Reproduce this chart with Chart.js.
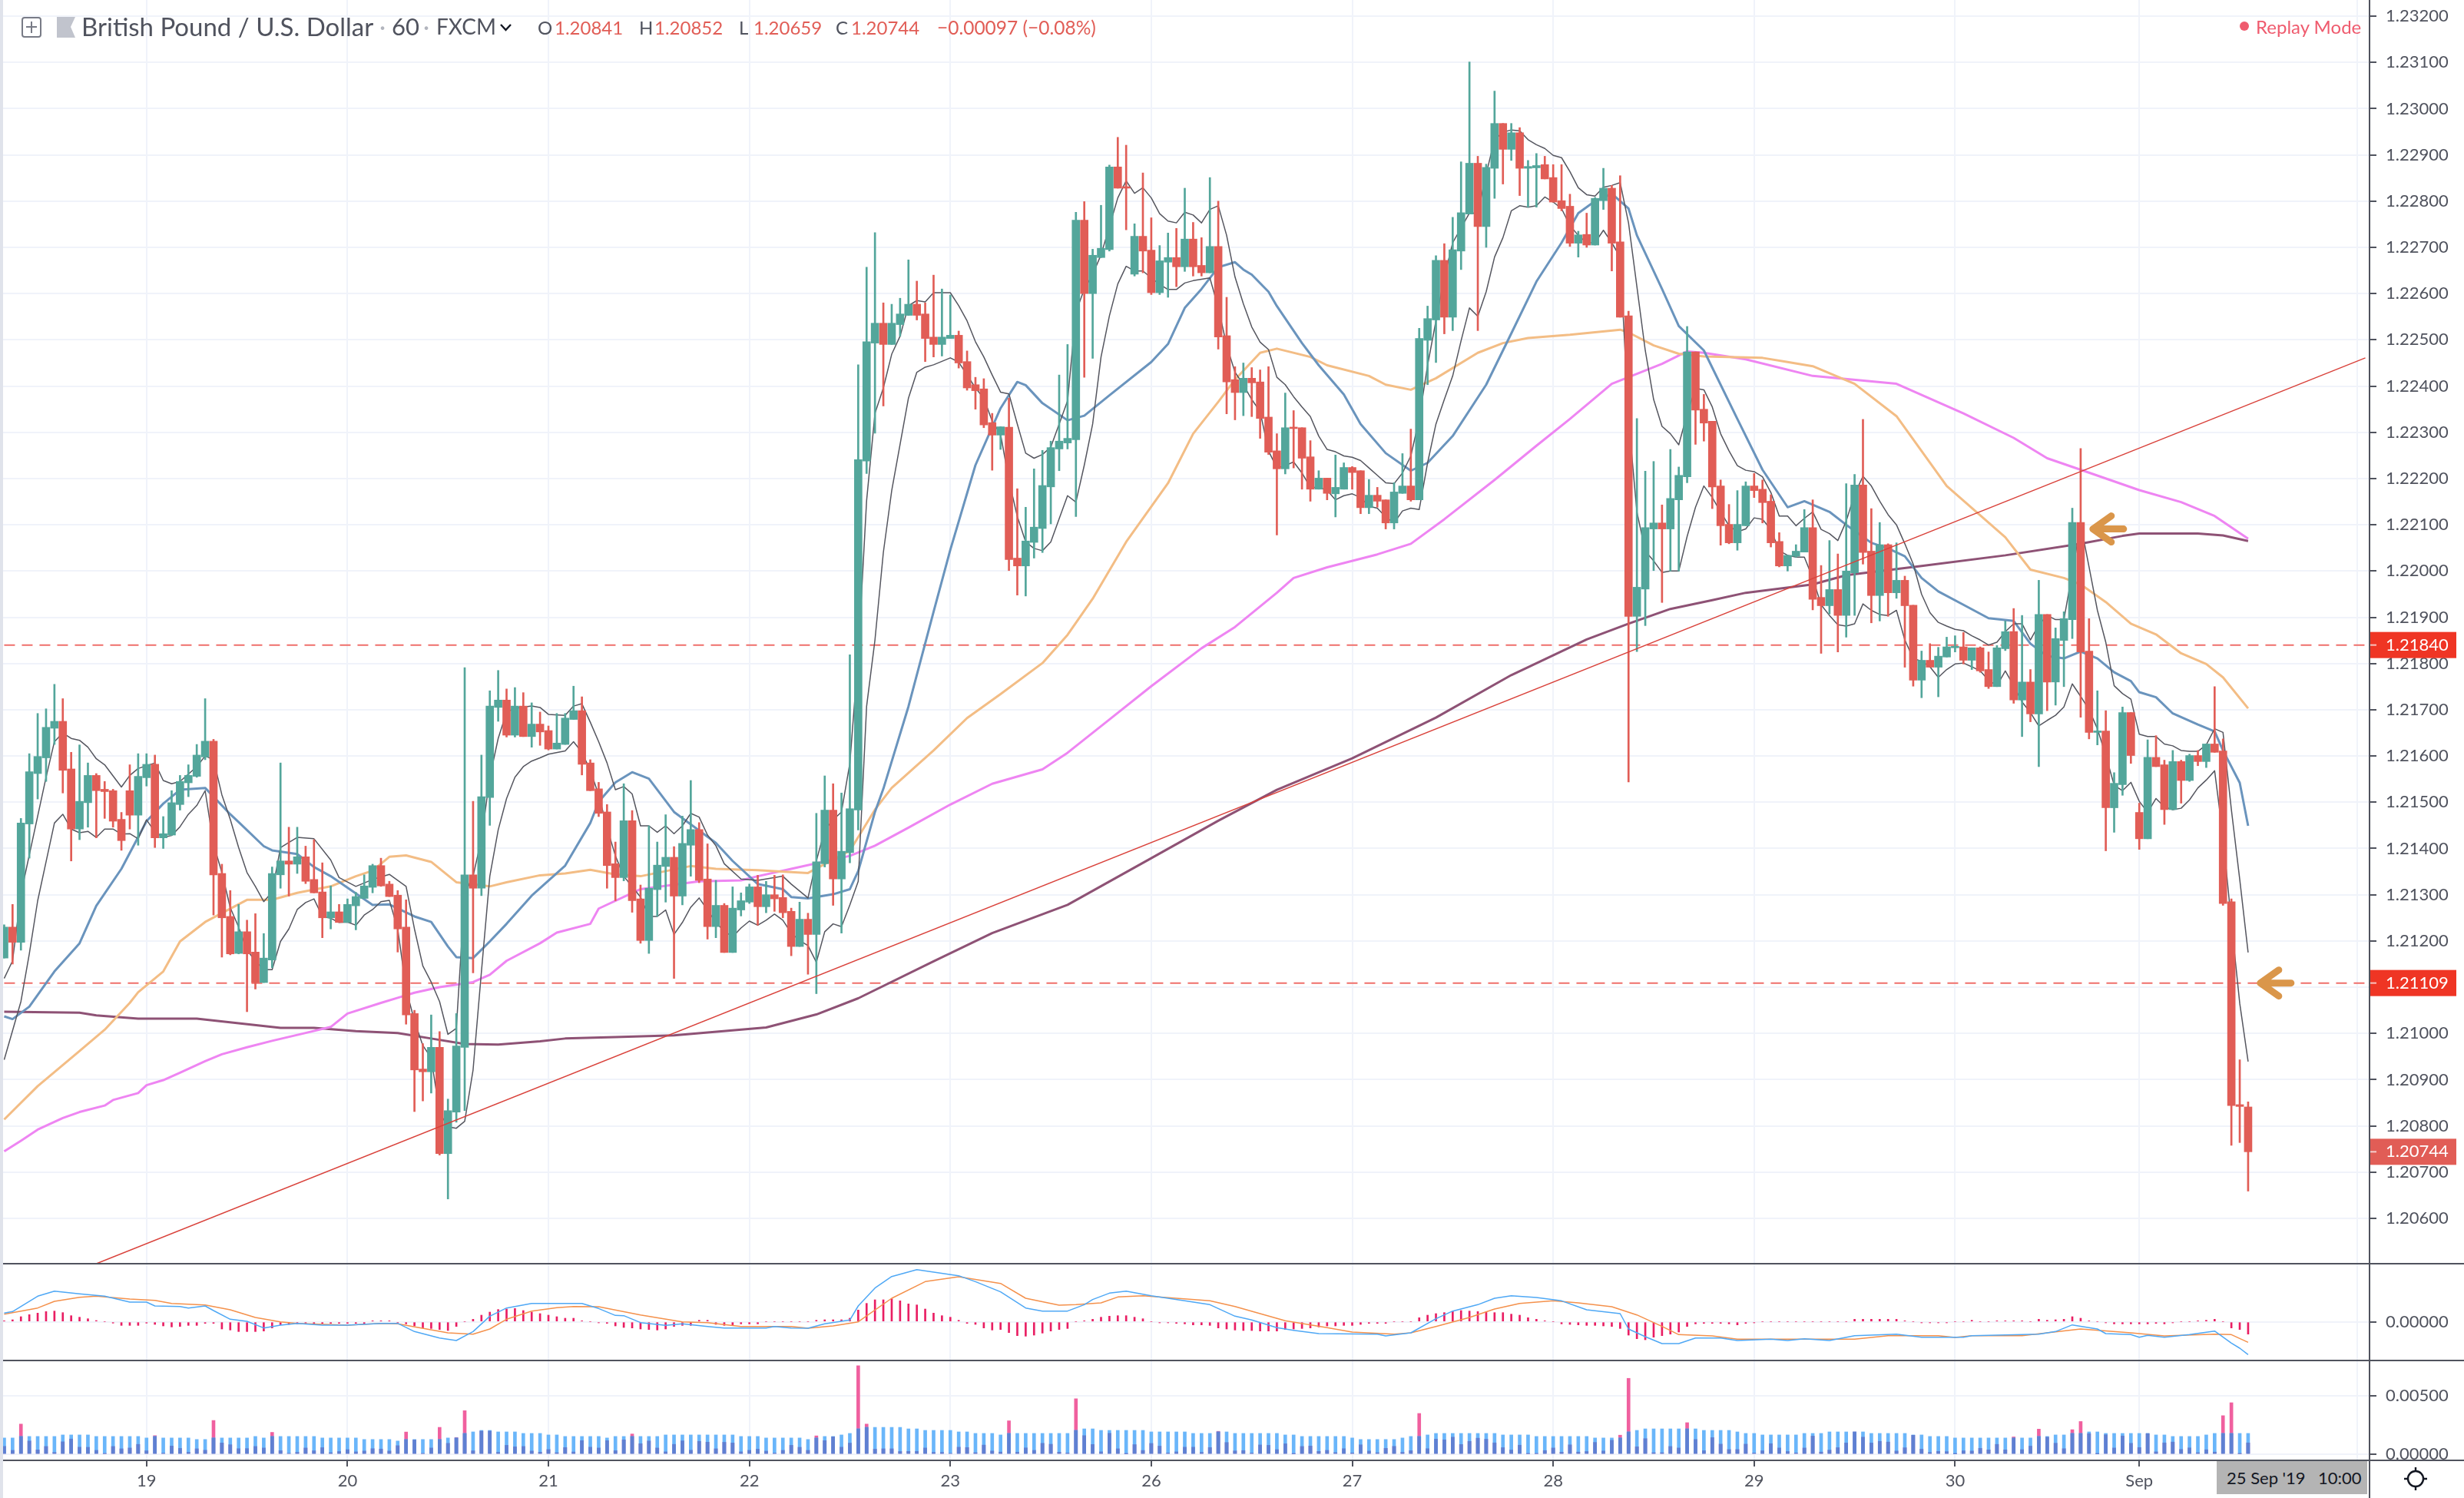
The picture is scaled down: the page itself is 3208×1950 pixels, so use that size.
<!DOCTYPE html>
<html>
<head>
<meta charset="utf-8">
<title>GBPUSD 60</title>
<script src="https://cdn.jsdelivr.net/npm/chart.js@4"></script>
<style>
html,body{margin:0;padding:0;background:#fff}
#page{position:relative;width:3208px;height:1950px;overflow:hidden;background:#fff;font-family:Lato,sans-serif;color:#50535e}
canvas{position:absolute;left:0}
.txt{position:absolute;white-space:nowrap;line-height:1}
.rule{position:absolute;background:#50535e}
</style>
</head>
<body>
<div id="page">
<canvas id="mainPane" width="3208" height="1645" style="top:0"></canvas>
<canvas id="macdPane" width="3208" height="126" style="top:1645px"></canvas>
<canvas id="atrPane" width="3208" height="179" style="top:1771px"></canvas>
<div class="rule" style="left:0;top:0;width:4px;height:1950px;background:#e0e3eb"></div>
<div class="rule" style="left:4px;top:1644px;width:3204px;height:2px"></div>
<div class="rule" style="left:4px;top:1770px;width:3204px;height:2px"></div>
<div class="rule" style="left:4px;top:1900px;width:3204px;height:2px"></div>
<div class="rule" style="left:3084px;top:0;width:2px;height:1950px"></div>
<svg style="position:absolute;left:28px;top:22px" width="72" height="27"><rect x="1" y="1" width="24" height="25" rx="3" fill="none" stroke="#787b86" stroke-width="2"/><path d="M13 6V21M6 13H20" stroke="#787b86" stroke-width="2"/><path d="M46 0H70L64 13L70 27H46Z" fill="#c1c4cd"/></svg>
<div class="txt" style="left:106px;top:18px;font-size:33px">British Pound / U.S. Dollar</div>
<div class="txt" style="left:494px;top:19px;font-size:31px;color:#b2b5be">·</div>
<div class="txt" style="left:510px;top:19px;font-size:31px">60</div>
<div class="txt" style="left:551px;top:19px;font-size:31px;color:#b2b5be">·</div>
<div class="txt" style="left:568px;top:20px;font-size:28px">FXCM</div>
<svg style="position:absolute;left:650px;top:30px" width="18" height="12"><path d="M2 2L8.5 9L15 2" fill="none" stroke="#131722" stroke-width="2.4"/></svg>
<div class="txt" style="left:700px;top:24px;font-size:24px">O</div>
<div class="txt" style="left:722px;top:24px;font-size:24px;color:#e15d56">1.20841</div>
<div class="txt" style="left:832px;top:24px;font-size:24px">H</div>
<div class="txt" style="left:852px;top:24px;font-size:24px;color:#e15d56">1.20852</div>
<div class="txt" style="left:962px;top:24px;font-size:24px">L</div>
<div class="txt" style="left:981px;top:24px;font-size:24px;color:#e15d56">1.20659</div>
<div class="txt" style="left:1088px;top:24px;font-size:24px">C</div>
<div class="txt" style="left:1108px;top:24px;font-size:24px;color:#e15d56">1.20744</div>
<div class="txt" style="left:1220px;top:24px;font-size:24.5px;color:#e15d56">−0.00097 (−0.08%)</div>
<svg style="position:absolute;left:2915px;top:27px" width="14" height="14"><circle cx="7" cy="7" r="6" fill="#ef5b6e"/></svg>
<div class="txt" style="left:2937px;top:23px;font-size:24px;color:#ef5b6e">Replay Mode</div>
<div style="position:absolute;left:2886px;top:1902px;width:196px;height:43px;background:#b4b4b4"></div>
<div class="txt" style="left:2899px;top:1913px;font-size:22px;color:#131722">25 Sep '19</div>
<div class="txt" style="left:3018px;top:1913px;font-size:22px;color:#131722">10:00</div>
<svg style="position:absolute;left:3128px;top:1908px" width="34" height="34"><circle cx="17" cy="17" r="10" fill="none" stroke="#131722" stroke-width="2.4"/><path d="M17 2V7M17 27V32M2 17H7M27 17H32" stroke="#131722" stroke-width="2.4"/></svg>
</div>
<script>
const opens=[1.21163,1.21230,1.21197,1.21453,1.21562,1.21596,1.21660,1.21675,1.21572,1.21442,
1.21499,1.21558,1.21528,1.21525,1.21463,1.21525,1.21472,1.21553,1.21582,1.21423,
1.21429,1.21495,1.21542,1.21556,1.21598,1.21632,1.21346,1.21253,1.21173,1.21220,
1.21176,1.21110,1.21159,1.21343,1.21373,1.21366,1.21382,1.21333,1.21306,1.21250,
1.21263,1.21240,1.21276,1.21292,1.21316,1.21363,1.21323,1.21299,1.21230,1.21043,
1.20923,1.20917,1.20970,1.20740,1.20830,1.20970,1.21343,1.21314,1.21510,1.21705,
1.21721,1.21645,1.21708,1.21642,1.21669,1.21655,1.21615,1.21625,1.21679,1.21698,
1.21585,1.21529,1.21479,1.21367,1.21337,1.21460,1.21291,1.21201,1.21311,1.21361,
1.21381,1.21297,1.21407,1.21441,1.21334,1.21231,1.21277,1.21175,1.21267,1.21284,
1.21317,1.21274,1.21300,1.21294,1.21264,1.21188,1.21247,1.21214,1.21367,1.21483,
1.21334,1.21391,1.21483,1.22238,1.22493,1.22536,1.22490,1.22533,1.22553,1.22577,
1.22556,1.22506,1.22490,1.22503,1.22510,1.22453,1.22403,1.22394,1.22321,1.22294,
1.22311,1.22028,1.22011,1.22062,1.22092,1.22182,1.22264,1.22277,1.22284,1.22759,
1.22600,1.22678,1.22695,1.22874,1.22831,1.22642,1.22724,1.22694,1.22602,1.22668,
1.22678,1.22658,1.22718,1.22661,1.22645,1.22702,1.22509,1.22414,1.22386,1.22417,
1.22409,1.22333,1.22260,1.22221,1.22311,1.22310,1.22247,1.22177,1.22201,1.22167,
1.22177,1.22224,1.22217,1.22137,1.22164,1.22154,1.22104,1.22168,1.22184,1.22154,
1.22499,1.22543,1.22672,1.22549,1.22692,1.22772,1.22882,1.22745,1.22871,1.22968,
1.22912,1.22948,1.22871,1.22872,1.22879,1.22851,1.22801,1.22789,1.22709,1.22728,
1.22705,1.22801,1.22828,1.22712,1.22552,1.21902,1.21961,1.22091,1.22104,1.22091,
1.22154,1.22204,1.22474,1.22350,1.22324,1.22184,1.22101,1.22061,1.22098,1.22184,
1.22177,1.22151,1.22064,1.22011,1.22032,1.22041,1.22094,1.21943,1.21925,1.21960,
1.21904,1.21996,1.22186,1.22043,1.21947,1.22057,1.21953,1.21980,1.21926,1.21764,
1.21807,1.21792,1.21814,1.21834,1.21836,1.21807,1.21834,1.21787,1.21750,1.21832,
1.21869,1.21721,1.21760,1.21691,1.21906,1.21760,1.21850,1.21895,1.22105,1.21827,
1.21651,1.21654,1.21488,1.21538,1.21694,1.21478,1.21421,1.21597,1.21581,1.21484,
1.21588,1.21547,1.21601,1.21588,1.21626,1.21611,1.21285,1.20846,1.20841];
const closes=[1.21230,1.21197,1.21455,1.21566,1.21599,1.21662,1.21675,1.21569,1.21442,1.21502,
1.21558,1.21525,1.21523,1.21459,1.21417,1.21472,1.21556,1.21582,1.21423,1.21432,
1.21499,1.21545,1.21558,1.21602,1.21632,1.21343,1.21250,1.21172,1.21220,1.21172,
1.21110,1.21163,1.21346,1.21373,1.21366,1.21382,1.21329,1.21304,1.21250,1.21263,
1.21240,1.21279,1.21296,1.21319,1.21363,1.21319,1.21296,1.21226,1.21040,1.20921,
1.20917,1.20970,1.20740,1.20833,1.20973,1.21343,1.21314,1.21512,1.21708,1.21721,
1.21645,1.21708,1.21642,1.21669,1.21652,1.21615,1.21628,1.21682,1.21698,1.21582,
1.21525,1.21476,1.21363,1.21337,1.21460,1.21287,1.21201,1.21314,1.21364,1.21381,
1.21297,1.21411,1.21441,1.21331,1.21231,1.21277,1.21175,1.21271,1.21287,1.21317,
1.21274,1.21300,1.21291,1.21261,1.21188,1.21247,1.21214,1.21371,1.21483,1.21334,
1.21394,1.21486,1.22241,1.22496,1.22536,1.22490,1.22536,1.22556,1.22577,1.22553,
1.22503,1.22490,1.22506,1.22510,1.22450,1.22396,1.22390,1.22316,1.22294,1.22312,
1.22025,1.22011,1.22065,1.22095,1.22185,1.22267,1.22281,1.22287,1.22759,1.22600,
1.22683,1.22698,1.22874,1.22828,1.22828,1.22724,1.22692,1.22602,1.22671,1.22678,
1.22658,1.22718,1.22658,1.22645,1.22702,1.22506,1.22409,1.22386,1.22417,1.22407,
1.22330,1.22257,1.22221,1.22310,1.22308,1.22244,1.22177,1.22201,1.22168,1.22181,
1.22224,1.22213,1.22137,1.22164,1.22151,1.22104,1.22171,1.22184,1.22154,1.22503,
1.22546,1.22672,1.22549,1.22695,1.22775,1.22882,1.22745,1.22873,1.22968,1.22912,
1.22948,1.22871,1.22875,1.22877,1.22848,1.22798,1.22784,1.22709,1.22727,1.22705,
1.22806,1.22828,1.22709,1.22549,1.21902,1.21965,1.22094,1.22104,1.22091,1.22157,
1.22207,1.22474,1.22348,1.22320,1.22182,1.22098,1.22061,1.22101,1.22184,1.22174,
1.22148,1.22061,1.22011,1.22034,1.22043,1.22094,1.21939,1.21925,1.21960,1.21904,
1.22000,1.22186,1.22040,1.21947,1.22057,1.21953,1.21980,1.21925,1.21764,1.21807,
1.21792,1.21816,1.21836,1.21836,1.21807,1.21834,1.21784,1.21750,1.21834,1.21869,
1.21721,1.21760,1.21691,1.21906,1.21760,1.21854,1.21897,1.22105,1.21825,1.21651,
1.21653,1.21488,1.21541,1.21694,1.21601,1.21421,1.21597,1.21577,1.21484,1.21588,
1.21547,1.21601,1.21588,1.21626,1.21608,1.21281,1.20844,1.20842,1.20744];
const highs=[1.21235,1.21279,1.21465,1.21605,1.21692,1.21702,1.21755,1.21724,1.21608,1.21624,
1.21585,1.21562,1.21545,1.21528,1.21478,1.21581,1.21605,1.21605,1.21602,1.21469,
1.21525,1.21558,1.21581,1.21625,1.21724,1.21636,1.21366,1.21309,1.21279,1.21245,
1.21259,1.21216,1.21360,1.21585,1.21446,1.21446,1.21405,1.21419,1.21369,1.21319,
1.21279,1.21291,1.21305,1.21343,1.21366,1.21379,1.21329,1.21309,1.21289,1.21050,
1.20978,1.21040,1.21004,1.20858,1.21043,1.21791,1.21502,1.21602,1.21741,1.21785,
1.21745,1.21748,1.21737,1.21715,1.21695,1.21665,1.21692,1.21692,1.21751,1.21728,
1.21592,1.21543,1.21495,1.21414,1.21540,1.21482,1.21321,1.21449,1.21414,1.21473,
1.21404,1.21470,1.21547,1.21456,1.21410,1.21331,1.21281,1.21317,1.21304,1.21323,
1.21342,1.21329,1.21342,1.21343,1.21271,1.21284,1.21260,1.21476,1.21557,1.21540,
1.21520,1.21819,1.22446,1.22657,1.22732,1.22580,1.22577,1.22590,1.22673,1.22627,
1.22580,1.22640,1.22610,1.22597,1.22519,1.22476,1.22419,1.22416,1.22341,1.22312,
1.22374,1.22178,1.22138,1.22221,1.22261,1.22281,1.22424,1.22490,1.22776,1.22799,
1.22696,1.22791,1.22878,1.22938,1.22921,1.22751,1.22861,1.22764,1.22704,1.22731,
1.22741,1.22828,1.22754,1.22721,1.22851,1.22800,1.22592,1.22442,1.22450,1.22440,
1.22435,1.22442,1.22297,1.22385,1.22347,1.22310,1.22282,1.22217,1.22201,1.22251,
1.22234,1.22226,1.22217,1.22198,1.22181,1.22154,1.22191,1.22254,1.22307,1.22525,
1.22573,1.22682,1.22708,1.22765,1.22885,1.23101,1.22897,1.22880,1.23038,1.22968,
1.22968,1.22959,1.22888,1.22903,1.22897,1.22879,1.22879,1.22815,1.22735,1.22774,
1.22808,1.22871,1.22834,1.22855,1.22562,1.22330,1.22216,1.22237,1.22143,1.22263,
1.22225,1.22529,1.22474,1.22382,1.22324,1.22197,1.22144,1.22174,1.22193,1.22211,
1.22197,1.22165,1.22083,1.22034,1.22057,1.22133,1.22154,1.22012,1.22066,1.22037,
1.22189,1.22209,1.22328,1.22135,1.22105,1.22059,1.22061,1.21989,1.21926,1.21827,
1.21843,1.21835,1.21857,1.21860,1.21867,1.21834,1.21836,1.21825,1.21839,1.21892,
1.21919,1.21904,1.21787,1.21980,1.21906,1.21877,1.21912,1.22136,1.22265,1.21897,
1.21741,1.21698,1.21564,1.21706,1.21694,1.21498,1.21635,1.21644,1.21591,1.21612,
1.21591,1.21604,1.21612,1.21626,1.21750,1.21637,1.21291,1.20943,1.20852];
const lows=[1.21163,1.21150,1.21180,1.21379,1.21507,1.21545,1.21625,1.21520,1.21373,1.21419,
1.21446,1.21423,1.21465,1.21446,1.21396,1.21442,1.21407,1.21535,1.21402,1.21400,
1.21428,1.21483,1.21512,1.21554,1.21592,1.21256,1.21165,1.21170,1.21172,1.21047,
1.21096,1.21110,1.21142,1.21314,1.21297,1.21346,1.21324,1.21304,1.21207,1.21226,
1.21240,1.21240,1.21224,1.21292,1.21304,1.21318,1.21296,1.21176,1.21020,1.20831,
1.20854,1.20871,1.20737,1.20642,1.20808,1.20833,1.21131,1.21298,1.21450,1.21675,
1.21641,1.21641,1.21642,1.21619,1.21623,1.21613,1.21615,1.21625,1.21679,1.21559,
1.21525,1.21469,1.21314,1.21287,1.21330,1.21262,1.21195,1.21173,1.21253,1.21284,
1.21119,1.21278,1.21340,1.21326,1.21204,1.21207,1.21175,1.21175,1.21254,1.21281,
1.21234,1.21261,1.21264,1.21250,1.21168,1.21188,1.21128,1.21086,1.21360,1.21277,
1.21217,1.21369,1.21440,1.22211,1.22298,1.22357,1.22490,1.22508,1.22553,1.22543,
1.22453,1.22463,1.22465,1.22503,1.22439,1.22391,1.22350,1.22310,1.22218,1.22263,
1.22001,1.21948,1.21946,1.22028,1.22040,1.22102,1.22217,1.22264,1.22118,1.22419,
1.22460,1.22678,1.22692,1.22828,1.22738,1.22638,1.22645,1.22598,1.22598,1.22592,
1.22615,1.22648,1.22638,1.22638,1.22645,1.22480,1.22340,1.22327,1.22336,1.22334,
1.22287,1.22252,1.22078,1.22210,1.22223,1.22177,1.22151,1.22177,1.22154,1.22117,
1.22177,1.22177,1.22124,1.22124,1.22138,1.22091,1.22091,1.22168,1.22151,1.22154,
1.22403,1.22451,1.22513,1.22520,1.22652,1.22772,1.22520,1.22700,1.22806,1.22837,
1.22888,1.22812,1.22787,1.22787,1.22848,1.22798,1.22779,1.22702,1.22679,1.22700,
1.22705,1.22782,1.22649,1.22549,1.21544,1.21826,1.21882,1.22001,1.21932,1.22000,
1.22000,1.22191,1.22274,1.22281,1.22135,1.22056,1.22059,1.22045,1.22098,1.22159,
1.22104,1.22052,1.22009,1.22000,1.22030,1.22041,1.21916,1.21822,1.21907,1.21825,
1.21857,1.21904,1.22015,1.21888,1.21892,1.21902,1.21941,1.21792,1.21751,1.21726,
1.21792,1.21728,1.21814,1.21825,1.21799,1.21787,1.21781,1.21746,1.21750,1.21828,
1.21714,1.21642,1.21674,1.21577,1.21698,1.21710,1.21750,1.21854,1.21684,1.21637,
1.21624,1.21395,1.21435,1.21515,1.21584,1.21398,1.21421,1.21577,1.21452,1.21484,
1.21498,1.21545,1.21579,1.21575,1.21608,1.21277,1.20758,1.20764,1.20659];

// thin high/low averages, one reading per candle where it can be seen
const upperAvg=[1.21119,1.21157,1.21302,null,1.21470,1.21554,1.21631,1.21650,1.21638,1.21634,
1.21619,1.21594,1.21581,null,1.21533,1.21558,1.21573,null,1.21585,1.21547,
1.21540,1.21545,null,1.21577,1.21600,1.21592,1.21516,1.21463,1.21402,1.21348,
1.21318,1.21285,1.21306,1.21402,1.21413,1.21424,null,1.21421,null,1.21375,
1.21337,null,1.21318,null,1.21333,null,1.21344,null,1.21318,1.21226,
1.21146,1.21111,1.21069,1.20998,1.21011,1.21302,1.21340,1.21421,1.21554,1.21638,
1.21695,1.21703,null,1.21708,1.21705,1.21690,null,1.21688,1.21708,1.21713,
1.21673,1.21631,1.21585,1.21527,1.21534,1.21518,1.21449,1.21449,1.21435,1.21449,
1.21432,1.21449,1.21476,1.21468,1.21429,1.21406,1.21367,null,1.21334,null,
1.21331,null,null,1.21340,1.21323,null,1.21293,1.21373,1.21440,1.21462,
1.21479,1.21584,1.21818,1.22152,1.22341,1.22396,1.22469,1.22508,1.22574,1.22585,
1.22582,1.22602,null,1.22602,1.22574,1.22541,1.22496,1.22463,1.22424,1.22387,
1.22383,1.22318,1.22255,1.22244,1.22252,1.22268,1.22318,1.22368,1.22560,1.22610,
1.22641,1.22684,1.22745,1.22807,1.22844,1.22817,1.22829,1.22807,1.22773,1.22757,
1.22753,1.22776,1.22770,1.22753,1.22782,1.22790,1.22726,1.22636,1.22578,1.22528,
1.22495,1.22479,1.22419,1.22403,1.22377,1.22355,1.22334,1.22292,1.22263,1.22258,
1.22249,1.22246,1.22239,1.22223,1.22207,1.22191,1.22189,1.22212,1.22249,1.22329,
1.22445,1.22541,1.22636,1.22710,1.22742,1.22774,1.22774,1.22859,1.22933,1.22949,
1.22954,1.22952,1.22933,1.22922,1.22914,1.22899,1.22894,1.22864,1.22829,1.22814,
1.22811,1.22830,1.22834,1.22840,1.22753,1.22615,1.22477,1.22371,1.22313,1.22297,
1.22273,1.22340,1.22395,1.22392,1.22355,1.22297,1.22260,1.22228,1.22218,1.22215,
1.22204,1.22170,1.22119,1.22119,1.22098,1.22114,1.22128,1.22090,1.22081,1.22066,
1.22108,1.22166,1.22205,1.22184,1.22151,1.22122,1.22100,1.22059,1.22015,1.21950,
1.21910,1.21889,1.21881,1.21874,1.21871,1.21860,1.21851,1.21840,1.21846,1.21869,
1.21886,1.21886,1.21851,1.21884,1.21904,1.21895,1.21895,1.21997,1.22102,1.22009,
1.21915,1.21846,1.21752,1.21735,1.21723,1.21647,1.21642,1.21642,1.21626,1.21622,
1.21612,1.21610,1.21610,1.21624,1.21659,1.21651,1.21484,1.21333,1.21175];
const lowerAvg=[1.20943,null,1.21069,1.21172,1.21287,1.21371,1.21455,1.21474,1.21442,1.21434,
1.21437,1.21424,1.21442,1.21442,1.21431,1.21432,1.21421,1.21462,1.21436,1.21424,
1.21428,1.21447,1.21474,1.21493,1.21525,1.21409,1.21348,1.21272,1.21230,1.21180,
1.21157,1.21138,1.21138,1.21199,1.21226,1.21268,1.21283,1.21291,1.21253,1.21249,
1.21240,1.21241,1.21234,1.21256,1.21268,1.21285,1.21288,1.21226,1.21096,1.21027,
1.20974,1.20947,1.20829,1.20798,1.20795,1.20810,1.20921,1.21134,1.21340,1.21440,
1.21508,1.21554,1.21577,1.21589,1.21596,1.21604,null,1.21611,1.21631,1.21608,
1.21569,1.21516,1.21445,1.21384,1.21340,null,1.21295,1.21253,1.21253,1.21267,
1.21214,1.21240,1.21273,1.21293,1.21267,1.21240,1.21221,1.21209,1.21228,1.21243,
1.21234,1.21245,1.21258,1.21245,1.21217,1.21201,1.21190,1.21154,1.21220,1.21237,
1.21231,1.21278,1.21329,1.21707,1.21851,1.22040,1.22174,1.22274,1.22374,1.22430,
1.22441,1.22446,null,1.22461,1.22452,1.22424,1.22396,1.22374,1.22324,1.22296,
1.22196,1.22118,1.22063,1.22049,1.22044,1.22063,1.22113,1.22163,1.22149,1.22229,
1.22318,1.22463,1.22552,1.22621,1.22659,1.22649,1.22649,1.22634,1.22620,1.22609,
1.22609,1.22623,1.22628,1.22631,1.22634,1.22570,1.22488,1.22430,1.22403,1.22371,
1.22345,1.22260,1.22223,1.22228,1.22236,1.22212,1.22181,1.22181,1.22175,1.22154,
1.22163,1.22167,1.22159,1.22140,1.22136,1.22117,1.22104,1.22130,1.22136,1.22133,
1.22234,1.22318,1.22371,1.22422,1.22498,1.22569,1.22551,1.22604,1.22679,1.22721,
1.22779,1.22790,1.22787,1.22790,1.22809,1.22798,1.22784,1.22747,1.22726,1.22710,
1.22710,1.22737,1.22710,1.22679,1.22329,1.22128,1.22043,1.22022,1.21997,1.22000,
1.22000,1.22075,1.22138,1.22184,1.22159,1.22128,1.22098,1.22085,1.22091,1.22115,
1.22112,1.22090,1.22044,1.22034,1.22030,1.22030,1.21985,1.21927,1.21904,1.21884,
1.21881,1.21886,1.21929,1.21915,1.21906,1.21904,1.21915,1.21851,1.21811,1.21805,
1.21793,1.21770,1.21787,1.21799,1.21801,1.21793,1.21784,1.21764,1.21752,1.21784,
1.21752,1.21717,1.21694,1.21665,1.21677,1.21688,1.21706,1.21756,1.21729,1.21700,
1.21659,1.21601,1.21537,1.21525,1.21543,1.21502,1.21478,1.21508,1.21490,1.21484,
1.21487,1.21505,1.21531,1.21548,1.21568,1.21426,1.21240,1.21065,1.20939];

const blueIdx=[0,1,3,6,9,11,14,17,19,21,24,27,28,31,32,35,37,39,44,46,49,51,53,54,56,58,60,63,67,70,71,73,75,77,80,85,87,90,93,94,96,99,101,102,104,105,108,111,113,116,119,121,122,124,127,129,132,137,139,141,143,145,147,148,149,151,152,155,157,160,162,165,168,170,173,177,180,183,186,188,190,192,194,195,198,200,203,207,210,213,215,218,220,223,225,227,229,231,234,237,240,242,244,246,248,250,252,254,255,257,259,262,264,265,267,268];
const blueVals=[1.21037,1.21031,1.21058,1.21134,1.21195,1.21276,1.21356,1.21459,1.21497,1.21527,1.21531,1.21474,1.21457,1.21405,1.21396,1.21388,1.21360,1.21340,1.21278,1.21279,1.21253,1.21241,1.21188,1.21165,1.21163,1.21199,1.21237,1.21298,1.21363,1.21455,1.21501,1.21543,1.21565,1.21551,1.21479,1.21412,1.21373,1.21323,1.21312,1.21295,1.21292,1.21301,1.21312,1.21351,1.21479,1.21529,1.21707,1.21912,1.22046,1.22229,1.22352,1.22409,1.22402,1.22363,1.22326,1.22336,1.22380,1.22452,1.22491,1.22569,1.22610,1.22657,1.22668,1.22652,1.22641,1.22604,1.22573,1.22493,1.22445,1.22382,1.22318,1.22255,1.22217,1.22234,1.22292,1.22403,1.22514,1.22626,1.22710,1.22774,1.22800,1.22816,1.22784,1.22726,1.22610,1.22530,1.22477,1.22329,1.22219,1.22138,1.22151,1.22128,1.22100,1.22061,1.22049,1.22032,1.21985,1.21956,1.21927,1.21898,1.21892,1.21843,1.21816,1.21811,1.21826,1.21811,1.21781,1.21762,1.21738,1.21727,1.21692,1.21668,1.21653,1.21612,1.21542,1.21449];
const orangeIdx=[0,4,9,12,15,16,19,21,24,29,32,35,39,42,44,46,48,51,54,58,60,64,67,70,73,76,82,85,90,96,101,104,106,111,115,119,124,127,130,134,139,142,145,147,150,152,156,158,163,165,168,171,176,179,182,187,193,194,197,200,203,208,210,213,216,221,226,232,239,242,246,248,251,254,257,260,263,265,268];
const orangeVals=[1.20814,1.20886,1.20962,1.21008,1.21066,1.21089,1.21134,1.21199,1.21241,1.21289,1.21289,1.21304,1.21318,1.21340,1.21352,1.21382,1.21385,1.21371,1.21327,1.21318,1.21327,1.21342,1.21346,1.21354,1.21344,1.21340,1.21362,1.21356,1.21353,1.21347,1.21395,1.21484,1.21531,1.21612,1.21682,1.21734,1.21801,1.21862,1.21940,1.22063,1.22190,1.22297,1.22366,1.22414,1.22472,1.22481,1.22463,1.22445,1.22422,1.22403,1.22392,1.22417,1.22472,1.22493,1.22504,1.22511,1.22522,1.22516,1.22488,1.22470,1.22464,1.22462,1.22461,1.22452,1.22443,1.22405,1.22335,1.22184,1.22073,1.22003,1.21985,1.21971,1.21933,1.21886,1.21863,1.21822,1.21799,1.21770,1.21703];
const magentaIdx=[0,2,4,7,9,12,13,16,17,19,21,24,26,29,32,36,39,41,45,47,49,52,56,58,60,64,66,70,71,76,83,88,90,94,101,104,108,113,118,124,127,132,137,143,147,152,154,158,164,168,172,178,183,187,192,198,201,203,208,216,226,234,240,244,248,255,260,264,268];
const magentaVals=[1.20745,1.20768,1.20792,1.20817,1.20830,1.20844,1.20856,1.20871,1.20888,1.20899,1.20915,1.20940,1.20955,1.20970,1.20984,1.21001,1.21014,1.21043,1.21066,1.21077,1.21088,1.21100,1.21111,1.21127,1.21157,1.21195,1.21218,1.21237,1.21270,1.21312,1.21329,1.21331,1.21340,1.21356,1.21384,1.21406,1.21445,1.21495,1.21540,1.21571,1.21607,1.21679,1.21751,1.21833,1.21879,1.21953,1.21985,1.22008,1.22036,1.22059,1.22112,1.22197,1.22271,1.22329,1.22405,1.22448,1.22475,1.22472,1.22458,1.22422,1.22405,1.22341,1.22288,1.22244,1.22219,1.22175,1.22149,1.22119,1.22070];
const maroonIdx=[0,9,11,16,23,28,33,37,42,47,51,55,59,64,67,73,80,91,97,102,111,118,127,137,145,152,161,171,180,189,194,199,204,208,216,220,229,239,248,253,255,262,265,268];
const maroonVals=[1.21047,1.21045,1.21039,1.21032,1.21032,1.21022,1.21012,1.21012,1.21005,1.21001,1.20989,1.20977,1.20976,1.20983,1.20989,1.20992,1.20996,1.21013,1.21041,1.21076,1.21156,1.21217,1.21278,1.21379,1.21460,1.21527,1.21595,1.21683,1.21775,1.21852,1.21886,1.21918,1.21937,1.21953,1.21971,1.21991,1.22011,1.22034,1.22059,1.22076,1.22081,1.22081,1.22077,1.22065];

const trendIdx=[11,282];
const trendVals=[1.20502,1.22461];
const levelIdx=[0,282];
const levelHigh=[1.2184,1.2184];
const levelLow=[1.21109,1.21109];

// lower panes, in units of 0.00001
const macdHist=[4,8,20,28,34,40,42,36,24,18,12,5,0,-5,-14,-14,-14,-5,-10,-16,-20,-18,-14,-14,-6,-6,-28,-32,-38,-38,
-38,-36,-24,-12,-10,-8,-6,-6,-6,-6,-6,-6,-6,-6,4,4,4,-4,-8,-16,-24,-26,-30,-34,-18,0,10,26,38,48,
50,52,44,38,32,26,20,14,14,4,0,-4,-6,-16,-22,-24,-28,-30,-32,-28,-18,-14,-14,6,6,-10,-14,-14,-8,-8,
-8,0,0,0,0,0,0,6,8,8,8,14,46,72,86,86,90,82,70,66,50,34,24,18,6,-6,-10,-24,-32,
-30,-42,-54,-56,-52,-44,-36,-30,-26,0,4,10,18,22,24,24,18,12,0,-4,-4,-6,-8,-12,-12,-14,-24,-28,-32,
-34,-34,-36,-36,-36,-30,-28,-26,-24,-20,-16,-16,-14,-14,-10,-6,-6,-6,0,0,0,16,26,32,36,40,44,42,40,38,
36,36,30,26,16,10,4,0,-8,-10,-12,-14,-14,-16,-18,-26,-52,-66,-70,-60,-54,-48,-40,-18,-8,-6,-6,-6,-8,-12,
-6,-4,0,0,0,0,0,0,0,0,0,0,0,10,10,10,10,10,10,4,0,-4,-4,-4,-4,0,0,6,0,0,4,4,4,4,0,
10,6,8,10,20,14,4,0,-4,-8,-8,-8,-8,-8,-6,-8,-4,0,0,4,6,10,0,-24,-30,-48];
const macdBlueIdx=[0,1,4,6,9,12,15,17,18,21,22,24,25,27,29,31,33,35,38,41,45,47,49,52,54,56,58,60,63,69,71,73,74,76,79,81,84,86,91,92,94,96,98,101,102,104,106,109,114,116,119,122,124,127,129,130,132,134,137,141,144,147,149,152,154,157,164,165,168,171,173,176,178,180,183,186,189,193,194,196,198,200,202,205,207,211,213,215,218,221,226,229,234,235,243,245,247,250,251,254,255,256,258,261,264,266,267,268];
const macdBlueVals=[34,40,100,120,109,100,77,77,62,60,54,62,44,10,2,-24,-13,-6,-13,-13,-6,-6,-38,-63,-73,-38,22,54,72,72,52,25,24,-3,-14,-8,-18,-24,-24,-18,-24,-25,-8,7,62,132,177,204,180,157,117,54,42,42,67,87,112,120,102,82,67,22,7,-23,-33,-46,-48,-55,-43,12,42,67,92,102,95,82,47,32,-28,-58,-85,-85,-63,-63,-73,-68,-73,-66,-73,-54,-48,-60,-60,-54,-48,-38,-12,-28,-46,-50,-60,-53,-60,-50,-36,-83,-103,-128];
const macdOrangeIdx=[0,4,6,9,11,15,18,20,24,27,30,33,35,41,45,47,53,56,58,60,63,66,68,71,76,81,84,88,94,96,99,102,106,110,114,119,122,126,128,131,133,136,140,144,147,150,153,158,161,166,168,171,175,178,181,185,188,192,195,198,200,204,207,221,225,231,233,235,241,248,254,258,264,266,268];
const macdOrangeVals=[30,54,80,96,100,89,84,72,66,47,17,0,-6,-13,-6,-8,-43,-48,-28,10,42,55,60,59,27,0,-3,-18,-18,-25,-16,0,92,157,176,150,92,65,67,74,97,102,92,82,60,32,4,-23,-40,-48,-43,-18,17,50,72,82,74,59,27,-18,-50,-55,-68,-68,-54,-54,-61,-54,-54,-28,-43,-55,-48,-50,-80];

const bodySize=[67,33,258,113,37,66,15,106,130,60,59,33,5,66,46,53,84,29,159,9,70,50,16,46,34,289,96,81,47,48,
66,53,187,30,7,16,53,29,56,13,23,39,20,27,47,44,27,73,190,122,6,53,230,93,143,373,29,198,198,16,
76,63,66,27,17,40,13,57,19,116,60,53,116,30,123,173,90,113,53,20,84,114,34,110,103,46,102,96,20,33,
43,26,9,33,76,59,33,157,116,149,60,95,758,258,43,46,46,23,24,24,53,16,16,7,60,57,13,78,27,18,
286,17,54,33,93,85,17,10,475,159,83,20,179,46,3,82,32,92,69,10,20,60,60,16,57,196,100,28,31,10,
79,76,39,89,3,66,70,24,33,14,47,11,80,27,13,50,67,16,30,349,47,129,123,146,83,110,137,128,97,56,
36,77,4,5,31,53,17,80,18,23,101,27,119,163,650,63,133,13,13,66,53,270,126,30,142,86,40,40,86,10,
29,90,53,23,11,53,155,18,35,56,96,190,146,96,110,104,27,55,162,43,15,24,22,2,29,27,50,37,84,37,
148,39,69,215,146,94,47,210,280,176,2,166,53,156,93,57,176,20,97,104,41,54,13,38,18,330,441,4,97];
const avgSize=[139,139,152,152,152,152,152,165,165,165,165,152,152,152,152,152,152,139,152,139,139,139,139,126,126,139,139,139,139,139,
152,139,152,152,152,152,152,152,139,139,139,139,139,126,126,126,126,113,126,126,126,126,126,139,139,178,191,204,204,191,
191,191,178,178,178,165,165,152,152,152,152,152,139,152,152,152,152,152,152,165,165,165,165,165,165,165,165,165,152,152,
152,139,139,139,139,139,126,139,152,152,165,178,217,230,230,230,230,230,217,217,204,204,204,204,191,191,178,178,178,165,
178,178,178,178,178,178,178,178,204,217,217,204,204,204,204,204,204,191,191,191,191,191,178,178,178,191,191,178,178,178,
178,178,178,165,165,152,152,152,152,152,152,139,126,126,126,126,126,139,152,152,165,178,178,178,178,178,178,178,178,165,
165,165,165,152,152,152,152,152,152,152,139,139,139,139,191,204,217,217,217,217,217,217,217,204,204,204,204,191,178,178,
165,165,165,165,165,178,178,178,191,191,191,191,191,178,178,178,178,178,165,165,152,152,152,139,139,139,139,139,139,139,
139,139,139,152,152,165,165,178,178,191,191,178,178,178,178,178,178,165,165,152,152,152,152,165,178,178,178,178,178];

const labels=Array.from({length:283},(_,i)=>i);
const dayIdx=[17,41,65,89,113,137,161,185,209,233,255,281];
const dayNames=['19','20','21','22','23','26','27','28','29','30','Sep',''];
const priceTicks=[1.232,1.231,1.23,1.229,1.228,1.227,1.226,1.225,1.224,1.223,1.222,1.221,1.22,1.219,1.218,1.217,1.216,1.215,1.214,1.213,1.212,1.211,1.21,1.209,1.208,1.207,1.206];
const macdTicks=[0];
const atrTicks=[0,0.005];
const tagVals=[1.2184,1.21109,1.20744];
const tagColors=['#ef3524','#ef3524','#e15d56'];
const arrowIdx=[249,269];
const arrowVals=[1.22091,1.21109];

const INK='#50535e',GRID='#f0f3fa',GREEN='#53a69b',RED='#e15d56',FONT='Lato, sans-serif';

function sparse(idx,vals){
    const out=new Array(283).fill(null);
    idx.forEach((n,k)=>{out[n]=vals[k]});
    return out;
}
const points=a=>a.map(v=>v===null?null:v/100000);

function line(data,color,width,order,extra){
    return Object.assign({type:'line',data,borderColor:color,borderWidth:width,pointRadius:0,spanGaps:true,tension:0,order,borderJoinStyle:'round'},extra||{});
}

function xAxis(showLabels){
    return {
        type:'category',offset:true,
        border:{display:false},
        grid:{color:GRID,lineWidth:2,offset:false,drawTicks:showLabels,tickLength:8,tickWidth:2,tickColor:c=>c.index===11?'rgba(0,0,0,0)':INK},
        ticks:{display:showLabels,autoSkip:false,maxRotation:0,padding:6,color:INK,font:{family:FONT,size:22},callback:(v,i)=>dayNames[i]},
        afterBuildTicks:s=>{s.ticks=dayIdx.map(v=>({value:v}))},
        afterFit:s=>{s.height=showLabels?49:0;s.paddingLeft=0;s.paddingRight=0}
    };
}
function yAxis(min,max,ticks){
    return {
        position:'right',min,max,
        border:{display:false},
        grid:{color:GRID,lineWidth:2,tickColor:INK,tickLength:9,tickWidth:2},
        ticks:{color:INK,padding:12,font:{family:FONT,size:22},callback:v=>v.toFixed(5)},
        afterBuildTicks:s=>{s.ticks=ticks.map(v=>({value:v}))},
        afterFit:s=>{s.width=123;s.paddingTop=0;s.paddingBottom=0}
    };
}
const baseOptions=(x,y)=>({
    responsive:false,animation:false,devicePixelRatio:1,
    layout:{padding:0,autoPadding:false},
    plugins:{legend:{display:false},tooltip:{enabled:false}},
    scales:{x,y}
});

// price tags on the axis and the two drawn arrows, placed through the scales
const overlay={
    id:'overlay',
    afterDraw(chart){
        const {ctx,scales:{x,y},chartArea}=chart;
        ctx.save();
        tagVals.forEach((v,k)=>{
            const py=y.getPixelForValue(v);
            ctx.fillStyle=tagColors[k];
            ctx.fillRect(chartArea.right,py-17,113,34);
            ctx.strokeStyle='rgba(255,255,255,.7)';ctx.lineWidth=2;
            ctx.beginPath();ctx.moveTo(chartArea.right,py);ctx.lineTo(chartArea.right+9,py);ctx.stroke();
            ctx.fillStyle='#fff';ctx.font='22px '+FONT;ctx.textBaseline='middle';ctx.textAlign='left';
            ctx.fillText(v.toFixed(5),chartArea.right+21,py);
        });
        ctx.strokeStyle='#da964a';ctx.lineWidth=9;ctx.lineCap='round';ctx.lineJoin='round';
        arrowIdx.forEach((n,k)=>{
            const px=x.getPixelForValue(n)+5,py=y.getPixelForValue(arrowVals[k]);
            ctx.beginPath();
            ctx.moveTo(px+24,py-17);ctx.lineTo(px,py);ctx.lineTo(px+24,py+17);
            ctx.moveTo(px,py);ctx.lineTo(px+40,py);
            ctx.stroke();
        });
        ctx.restore();
    }
};

const candleColors=closes.map((c,i)=>c>=opens[i]?GREEN:RED);

new Chart(document.getElementById('mainPane'),{
    type:'bar',
    data:{labels,datasets:[
        line(sparse(trendIdx,trendVals),'#d9423b',1.5,0),
        {data:closes.map((c,i)=>[opens[i],c]),backgroundColor:candleColors,barThickness:10,grouped:false,order:1,minBarLength:2},
        {data:highs.map((h,i)=>[lows[i],h]),backgroundColor:candleColors,barThickness:2,grouped:false,order:2},
        line(upperAvg,'#55565f',1.5,3),
        line(lowerAvg,'#55565f',1.5,3),
        line(sparse(blueIdx,blueVals),'#6a94bd',3,4),
        line(sparse(orangeIdx,orangeVals),'#f3bd85',3,5),
        line(sparse(magentaIdx,magentaVals),'#ee85f2',3,6),
        line(sparse(maroonIdx,maroonVals),'#8e5275',3,7),
        line(sparse(levelIdx,levelHigh),'#ef6f6b',2,8,{borderDash:[14,9]}),
        line(sparse(levelIdx,levelLow),'#ef6f6b',2,8,{borderDash:[14,9]})
    ]},
    options:baseOptions(xAxis(false),yAxis(1.20502,1.23235,priceTicks)),
    plugins:[overlay]
});

new Chart(document.getElementById('macdPane'),{
    type:'bar',
    data:{labels,datasets:[
        line(points(sparse(macdBlueIdx,macdBlueVals)),'#4fa8f5',1.5,0),
        line(points(sparse(macdOrangeIdx,macdOrangeVals)),'#f4914c',1.5,1),
        {data:points(macdHist),backgroundColor:'#e91e63',barThickness:2,grouped:false,order:2}
    ]},
    options:baseOptions(xAxis(false),yAxis(-0.00151,0.00227,macdTicks))
});

new Chart(document.getElementById('atrPane'),{
    type:'bar',
    data:{labels,datasets:[
        {data:points(bodySize.map((b,i)=>Math.min(b,avgSize[i]))),backgroundColor:'#5f80d2',barThickness:4,grouped:false,order:0},
        {data:points(avgSize),backgroundColor:'#6ab6fa',barThickness:4,grouped:false,order:1},
        {data:points(bodySize),backgroundColor:'#f0609f',barThickness:4,grouped:false,order:2}
    ]},
    options:baseOptions(xAxis(true),yAxis(-0.00053,0.00803,atrTicks))
});
</script>
</body>
</html>
